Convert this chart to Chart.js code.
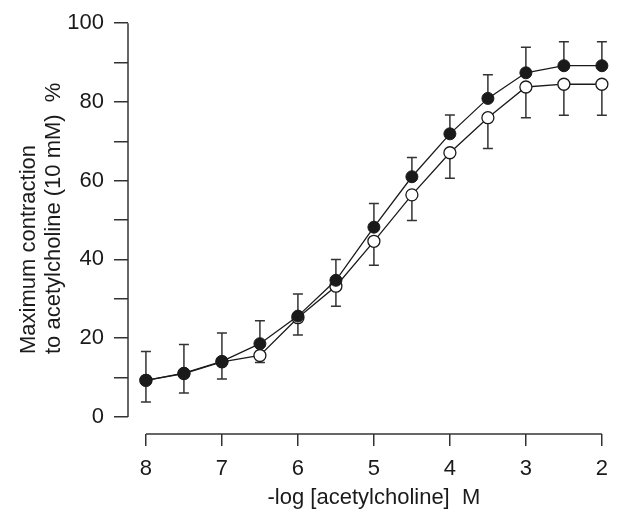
<!DOCTYPE html>
<html>
<head>
<meta charset="utf-8">
<script src="https://cdn.jsdelivr.net/npm/chart.js@4/dist/chart.umd.min.js"></script>
<style>
  html, body { margin: 0; padding: 0; background: #fff; }
  #wrap { width: 618px; height: 510px; }
</style>
</head>
<body>
<div id="wrap"><canvas id="doseChart" width="618" height="510"></canvas></div>
<script>
// -log [ACh] concentrations
const logConc = [8, 7.5, 7, 6.5, 6, 5.5, 5, 4.5, 4, 3.5, 3, 2.5, 2];
// filled circles, upper SEM
const filledMean = [9.3, 11.1, 14.1, 18.6, 25.6, 34.7, 48.2, 61.0, 71.9, 80.9, 87.4, 89.2, 89.2];
const filledErr = [7.3, 7.3, 7.2, 5.8, 5.6, 5.3, 6.0, 4.9, 4.8, 6.0, 6.5, 6.1, 6.1];
// open circles, lower SEM
const openMean = [9.3, 11.0, 14.0, 15.6, 25.2, 33.2, 44.6, 56.4, 67.1, 76.0, 83.8, 84.5, 84.5];
const openErr = [5.5, 4.9, 4.4, 1.8, 4.4, 5.1, 6.1, 6.5, 6.5, 7.8, 7.8, 7.9, 7.9];

const xTicks = [8, 7, 6, 5, 4, 3, 2];
const yTicks = [0, 10, 20, 30, 40, 50, 60, 70, 80, 90, 100];

const FONT = 'Liberation Sans, Arial, Helvetica, sans-serif';
const INK = '#1a1a1a';
const AXIS = '#333';

// error bars + detached axis lines + titles
const decor = {
    id: 'decor',
    beforeDatasetsDraw(chart) {
        const { ctx, scales: { x, y } } = chart;
        ctx.save();
        ctx.strokeStyle = '#333';
        ctx.lineWidth = 1.5;
        const cap = 5;
        logConc.forEach((c, i) => {
            const px = x.getPixelForValue(c);
            // filled: up
            let y0 = y.getPixelForValue(filledMean[i]);
            let y1 = y.getPixelForValue(filledMean[i] + filledErr[i]);
            ctx.beginPath();
            ctx.moveTo(px, y0); ctx.lineTo(px, y1);
            ctx.moveTo(px - cap, y1); ctx.lineTo(px + cap, y1);
            ctx.stroke();
            // open: down
            y0 = y.getPixelForValue(openMean[i]);
            y1 = y.getPixelForValue(openMean[i] - openErr[i]);
            ctx.beginPath();
            ctx.moveTo(px, y0); ctx.lineTo(px, y1);
            ctx.moveTo(px - cap, y1); ctx.lineTo(px + cap, y1);
            ctx.stroke();
        });
        ctx.restore();
    },
    afterDraw(chart) {
        const { ctx, chartArea, scales: { x, y } } = chart;
        ctx.save();
        ctx.strokeStyle = AXIS;
        ctx.lineWidth = 1.5;
        // y axis line, 0..100
        ctx.beginPath();
        ctx.moveTo(chartArea.left, y.getPixelForValue(0));
        ctx.lineTo(chartArea.left, y.getPixelForValue(100));
        ctx.stroke();
        // x axis line, 8..2
        ctx.beginPath();
        ctx.moveTo(x.getPixelForValue(8), chartArea.bottom);
        ctx.lineTo(x.getPixelForValue(2), chartArea.bottom);
        ctx.stroke();

        ctx.fillStyle = INK;
        ctx.font = '22px ' + FONT;
        ctx.textBaseline = 'middle';
        ctx.textAlign = 'center';
        const xMid = (x.getPixelForValue(8) + x.getPixelForValue(2)) / 2;
        ctx.fillText('-log [acetylcholine]  M', xMid, 498);

        ctx.translate(0, 354);
        ctx.rotate(-Math.PI / 2);
        ctx.textAlign = 'left';
        ctx.fillText('Maximum contraction', 0, 29);
        ctx.fillText('to acetylcholine (10 mM)  %', 0, 54);
        ctx.restore();
    }
};

const ctx = document.getElementById('doseChart').getContext('2d');
new Chart(ctx, {
    type: 'line',
    data: {
        datasets: [{
            label: 'filled',
            data: logConc.map((c, i) => ({ x: c, y: filledMean[i] })),
            borderColor: INK,
            borderWidth: 1.3,
            backgroundColor: INK,
            pointBackgroundColor: INK,
            pointBorderColor: INK,
            pointBorderWidth: 1,
            pointRadius: 6,
            tension: 0,
            clip: false
        }, {
            label: 'open',
            data: logConc.map((c, i) => ({ x: c, y: openMean[i] })),
            borderColor: INK,
            borderWidth: 1.3,
            backgroundColor: '#fff',
            pointBackgroundColor: '#fff',
            pointBorderColor: INK,
            pointBorderWidth: 1.3,
            pointRadius: 6,
            tension: 0,
            clip: false
        }]
    },
    options: {
        responsive: false,
        animation: false,
        events: [],
        layout: { padding: { top: 18, right: 15, bottom: 0, left: 0 } },
        plugins: {
            legend: { display: false },
            title: { display: false },
            tooltip: { enabled: false }
        },
        scales: {
            x: {
                type: 'linear',
                reverse: true,
                min: 2,
                max: 8.236,
                afterBuildTicks: s => { s.ticks = xTicks.map(v => ({ value: v })); },
                afterFit: s => { s.height = 76; },
                border: { display: false },
                grid: {
                    drawOnChartArea: false,
                    drawTicks: true,
                    tickLength: 12,
                    color: AXIS,
                    lineWidth: 1.5
                },
                ticks: {
                    autoSkip: false,
                    maxRotation: 0,
                    padding: 10,
                    color: INK,
                    font: { family: FONT, size: 22 }
                }
            },
            y: {
                type: 'linear',
                min: -4.34,
                max: 100,
                afterBuildTicks: s => { s.ticks = yTicks.map(v => ({ value: v })); },
                afterFit: s => { s.width = 128; },
                border: { display: false },
                grid: {
                    drawOnChartArea: false,
                    drawTicks: true,
                    tickLength: 14,
                    color: AXIS,
                    lineWidth: 1.5
                },
                ticks: {
                    autoSkip: false,
                    padding: 10,
                    color: INK,
                    font: { family: FONT, size: 22 },
                    callback: v => (v % 20 === 0 ? v : '')
                }
            }
        }
    },
    plugins: [decor]
});
</script>
</body>
</html>
